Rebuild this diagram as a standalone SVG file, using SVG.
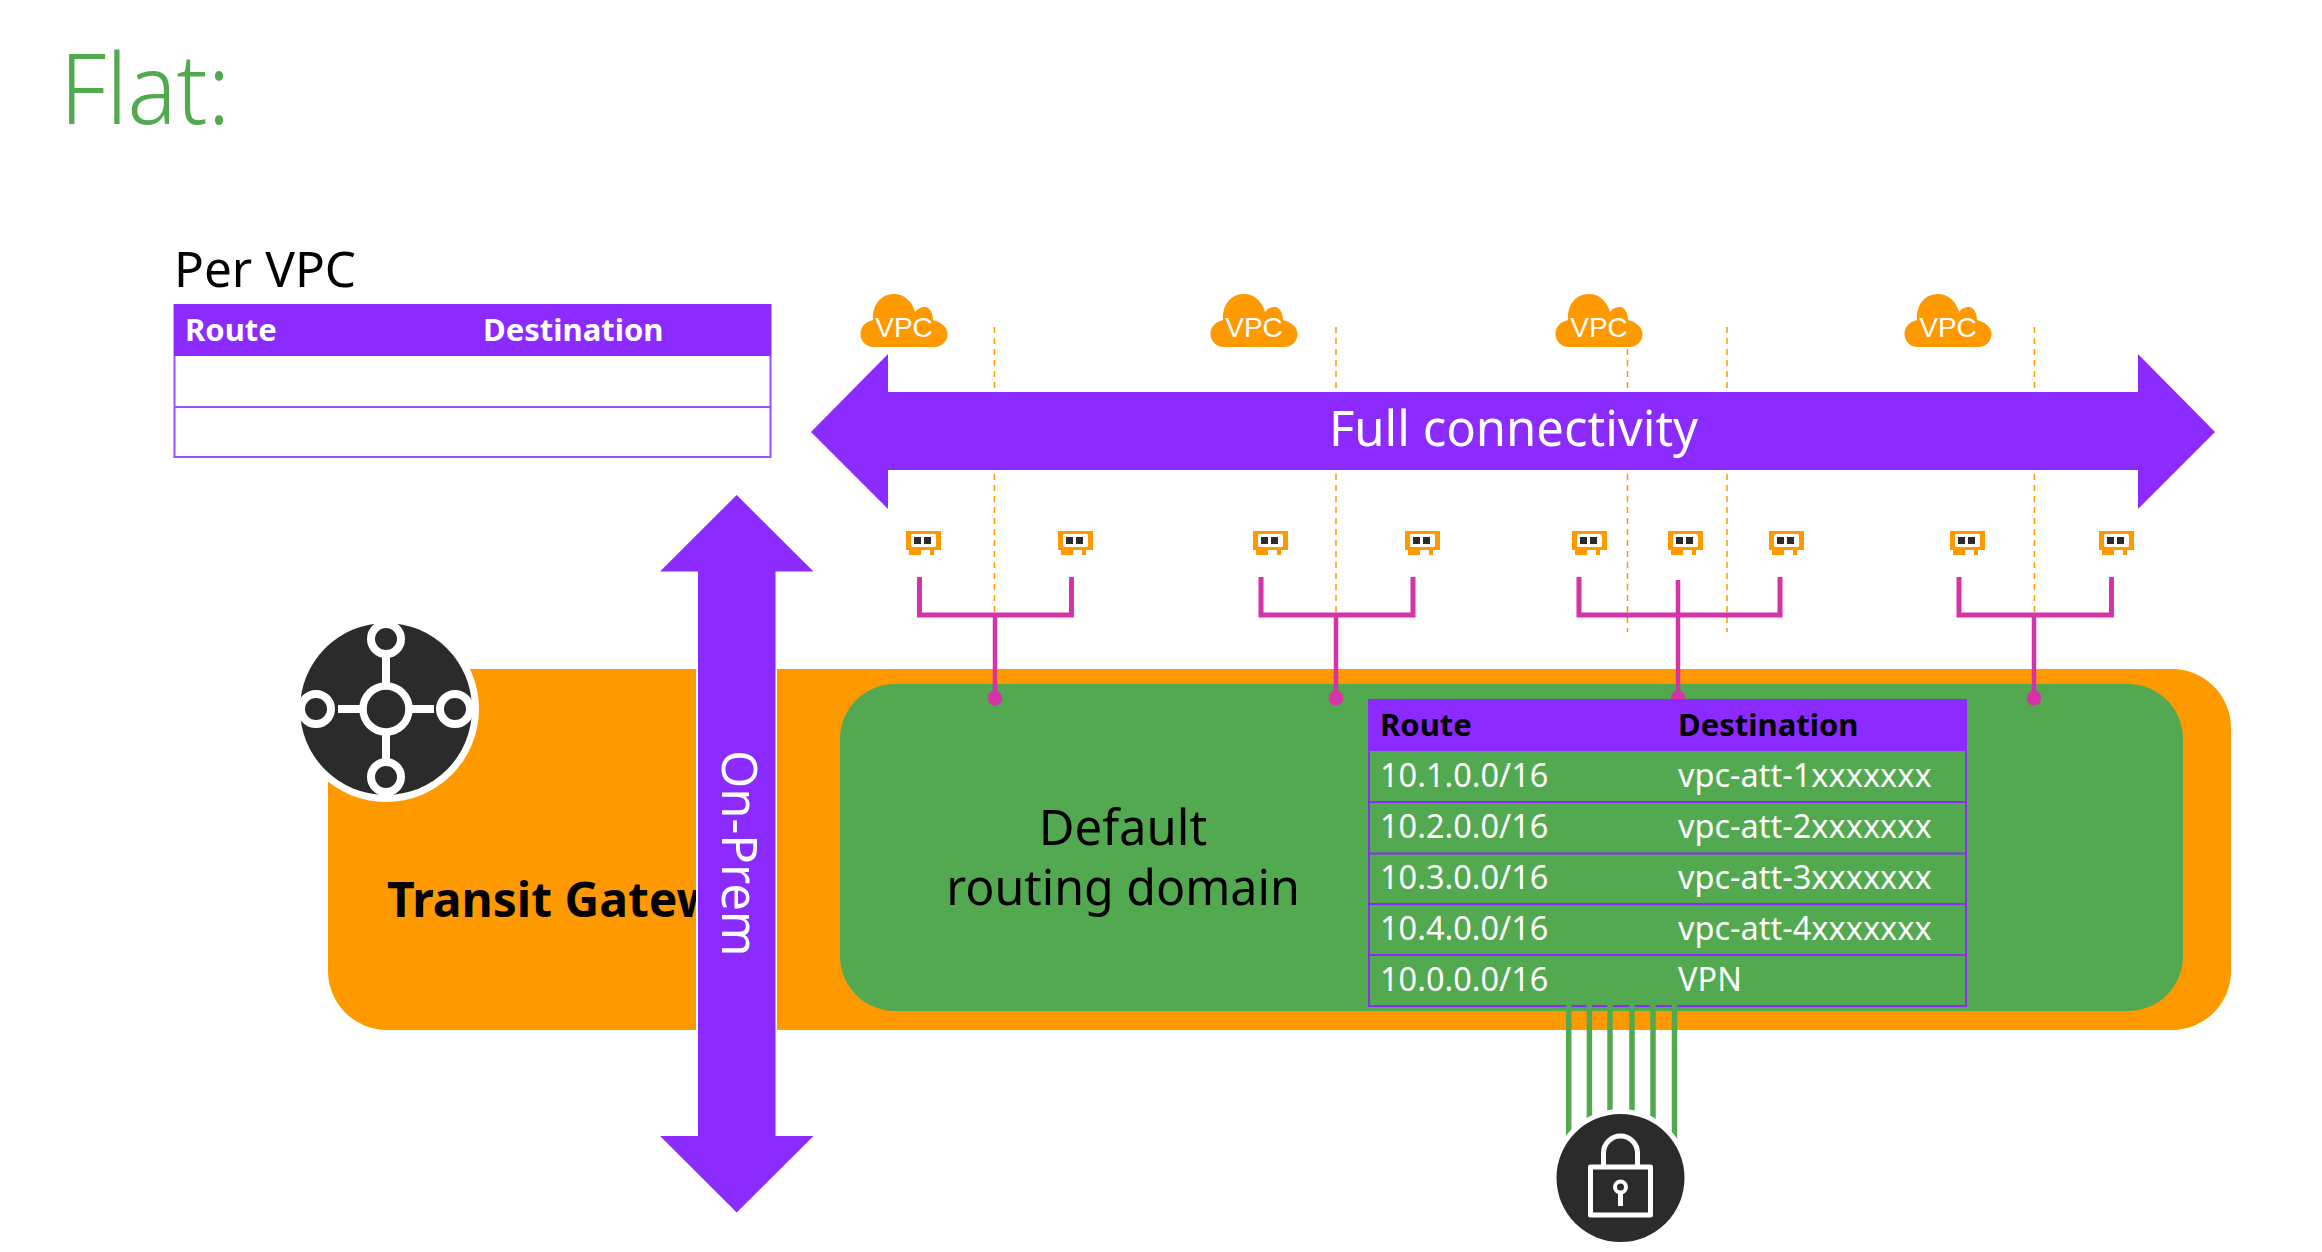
<svg xmlns="http://www.w3.org/2000/svg" width="2322" height="1252" viewBox="0 0 2322 1252">
<style>
text{font-family:"Noto Sans","Open Sans",sans-serif}
.hdr{font-size:31px;font-weight:700}
.cell{font-size:32.500px;fill:#fff}
.vpc{font-family:"Liberation Sans",Arial,sans-serif;font-size:28px;fill:#fff;text-anchor:middle}
.dash{stroke:#f90;stroke-width:1.5;stroke-dasharray:6 5;fill:none}
.pink{stroke:#d633a9;stroke-width:5;fill:none}
.drop{stroke:#d633a9;stroke-width:4.5;fill:none}
.dot{fill:#d633a9}
.grn{stroke:#52a94f;stroke-width:5.5;fill:none}
.tline{stroke:#8c2bff;stroke-width:2;fill:none}
.tline2{stroke:#a04fff;stroke-width:2;fill:none}
</style>
<defs>
<g id="cloud"><path fill="#f90" d="M14 53C6 53 .5 47 .5 40C.5 33 5 28 13 26C12 12 20 0 34 0C44 0 52 7 55 18C58 14 62 13 65 13C70 13 73 20 73 26C81 28 87.5 33 87.5 40C87.5 47 82 53 74 53Z"/></g>
<g id="eni"><path fill="#f90" d="M0 0H35V19H28V24H24V19H15V24H3V19H0Z"/><rect x="5" y="3" width="25" height="13" rx="1.5" fill="#fff"/><rect x="8" y="6" width="7" height="7" fill="#2b2b2b"/><rect x="18" y="6" width="7" height="7" fill="#2b2b2b"/></g>
</defs>
<rect width="2322" height="1252" fill="#fff"/>
<text id="title" x="60" y="124" font-size="97" font-weight="300" fill="#52a94f" textLength="170" lengthAdjust="spacingAndGlyphs">Flat:</text>

<g id="per-vpc-table">
<text x="174" y="287" font-size="49.500">Per VPC</text>
<rect x="174.500" y="305" width="596" height="152" fill="#fff" class="tline2"/>
<rect x="174" y="304" width="597" height="52" fill="#8c2bff"/>
<line x1="174" x2="771" y1="407" y2="407" class="tline2"/>
<text x="185" y="341" class="hdr" fill="#fff">Route</text>
<text x="483" y="341" class="hdr" fill="#fff">Destination</text>
</g>

<g id="transit-gateway">
<rect x="328" y="669" width="1903" height="361" rx="59" fill="#f90"/>
<text x="387" y="917" font-size="48" font-weight="700" fill="#000">Transit Gatew</text>
</g>

<g id="connectors-back">
<g class="dash-lines">
<path class="dash" d="M994.500 327V390M994.500 474V615"/>
<path class="dash" d="M1336 327V390M1336 474V615"/>
<path class="dash" d="M1627.500 327V390M1627.500 474V632"/>
<path class="dash" d="M1727 327V390M1727 474V632"/>
<path class="dash" d="M2034.500 327V390M2034.500 474V615"/>
</g>
</g>

<g id="routing-domain">
<rect x="840" y="684" width="1343" height="327" rx="55" fill="#52a94f"/>
<text x="1123" y="845" font-size="49" text-anchor="middle">Default</text>
<text x="1123" y="905" font-size="48.300" text-anchor="middle">routing domain</text>
</g>

<g id="connectors">
<path class="pink" d="M919.500 577V615H1071.500V577"/>
<path class="drop" d="M995 615V698"/>
<path class="pink" d="M1261 577V615H1413V577"/>
<path class="drop" d="M1336 615V698"/>
<path class="pink" d="M1579 577V615H1780V577"/>
<path class="drop" d="M1678 580V698"/>
<path class="pink" d="M1959 577V615H2111.500V577"/>
<path class="drop" d="M2034 615V698"/>
<ellipse class="dot" cx="995" cy="698" rx="7.400" ry="7.400"/>
<ellipse class="dot" cx="1336" cy="698" rx="7.400" ry="7.400"/>
<ellipse class="dot" cx="1678" cy="698" rx="7.400" ry="7.400"/>
<ellipse class="dot" cx="2034" cy="698" rx="7.400" ry="7.400"/>
</g>

<g id="route-table">
<rect x="1369" y="700" width="597" height="306" fill="none" class="tline"/>
<rect x="1368" y="699" width="599" height="52" fill="#8c2bff"/>
<path class="tline" d="M1369 802H1966M1369 853.500H1966M1369 904H1966M1369 955H1966"/>
<text x="1380" y="736" class="hdr" fill="#000">Route</text>
<text x="1678" y="736" class="hdr" fill="#000">Destination</text>
<text x="1380" y="787" class="cell">10.1.0.0/16</text><text x="1678" y="787" class="cell">vpc-att-1xxxxxxx</text>
<text x="1380" y="838" class="cell">10.2.0.0/16</text><text x="1678" y="838" class="cell">vpc-att-2xxxxxxx</text>
<text x="1380" y="889" class="cell">10.3.0.0/16</text><text x="1678" y="889" class="cell">vpc-att-3xxxxxxx</text>
<text x="1380" y="940" class="cell">10.4.0.0/16</text><text x="1678" y="940" class="cell">vpc-att-4xxxxxxx</text>
<text x="1380" y="991" class="cell">10.0.0.0/16</text><text x="1678" y="991" class="cell">VPN</text>
</g>

<g id="vpn-connectors">
<path class="grn" d="M1568.700 1005V1175M1589.400 1005V1175M1610 1005V1175M1632 1005V1175M1653 1005V1175M1674.500 1005V1175"/>
</g>

<g id="full-connectivity">
<polygon fill="#8c2bff" points="811,432 888,354 888,392 2138,392 2138,354 2215,432 2138,509 2138,470 888,470 888,509"/>
<text x="1513.500" y="446" font-size="49" fill="#fff" text-anchor="middle">Full connectivity</text>
</g>

<g id="on-prem">
<rect x="696" y="660" width="81" height="380" fill="#fff"/>
<polygon fill="#8c2bff" points="736.700,495 813.500,571.500 775.500,571.500 775.500,1136 813.500,1136 736.700,1212.500 660,1136 698,1136 698,571.500 660,571.500"/>
<text transform="translate(722,750) rotate(90)" font-size="49" fill="#fff">On-Prem</text>
</g>

<g id="vpc-1"><use href="#cloud" x="860" y="294"/><text x="904" y="337" class="vpc">VPC</text></g>
<g id="vpc-2"><use href="#cloud" x="1210" y="294"/><text x="1254" y="337" class="vpc">VPC</text></g>
<g id="vpc-3"><use href="#cloud" x="1555" y="294"/><text x="1599" y="337" class="vpc">VPC</text></g>
<g id="vpc-4"><use href="#cloud" x="1904" y="294"/><text x="1948" y="337" class="vpc">VPC</text></g>

<g id="eni-1"><use href="#eni" x="906" y="531"/></g>
<g id="eni-2"><use href="#eni" x="1058" y="531"/></g>
<g id="eni-3"><use href="#eni" x="1253" y="531"/></g>
<g id="eni-4"><use href="#eni" x="1405" y="531"/></g>
<g id="eni-5"><use href="#eni" x="1572" y="531"/></g>
<g id="eni-6"><use href="#eni" x="1668" y="531"/></g>
<g id="eni-7"><use href="#eni" x="1769" y="531"/></g>
<g id="eni-8"><use href="#eni" x="1950" y="531"/></g>
<g id="eni-9"><use href="#eni" x="2099" y="531"/></g>

<g id="tgw-icon" fill="none" stroke="#fff">
<circle cx="386" cy="709" r="93" fill="#fff" stroke="none"/>
<circle cx="386" cy="709" r="86" fill="#2b2b2b" stroke="none"/>
<path stroke-width="8" d="M386 657V684M386 734V761M338 709H361M411 709H434"/>
<circle cx="386" cy="709" r="23" stroke-width="7.500"/>
<circle cx="386" cy="639" r="15" stroke-width="8"/>
<circle cx="386" cy="777" r="15" stroke-width="8"/>
<circle cx="316" cy="709" r="15" stroke-width="8"/>
<circle cx="455" cy="709" r="15" stroke-width="8"/>
</g>

<g id="lock-icon">
<circle cx="1620.500" cy="1178" r="69" fill="#fff"/>
<circle cx="1620.500" cy="1178" r="64" fill="#2b2b2b"/>
<g fill="none" stroke="#fff" stroke-width="5" stroke-linejoin="round">
<rect x="1590.500" y="1167" width="60" height="48"/>
<path d="M1603.500 1167V1153A17 17 0 0 1 1637.500 1153V1167"/>
<circle cx="1620.500" cy="1187" r="5.500" stroke-width="4"/>
<path d="M1620.500 1193V1206" stroke-width="5"/>
</g>
</g>
</svg>
